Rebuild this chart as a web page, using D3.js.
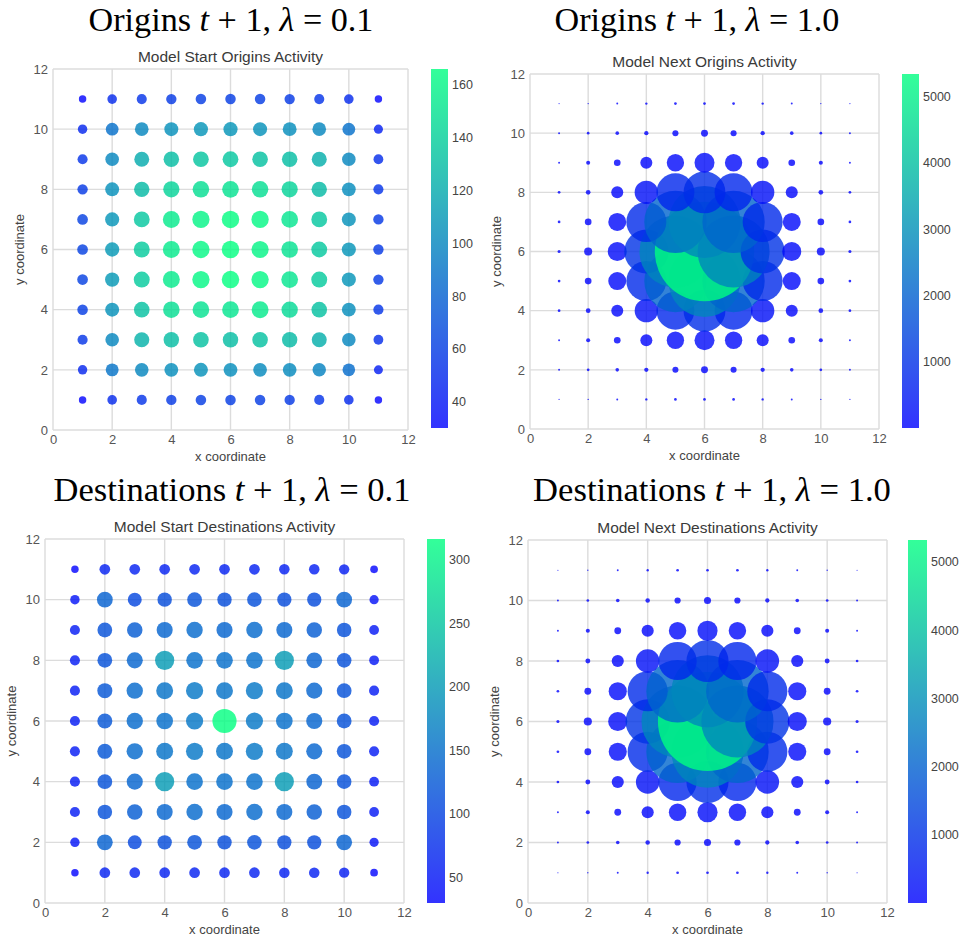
<!DOCTYPE html>
<html>
<head>
<meta charset="utf-8">
<script src="https://cdn.jsdelivr.net/npm/d3@7"></script>
<style>
  body { margin: 0; background: #fff; }
  text { white-space: pre; }
</style>
</head>
<body>
<svg id="chart" width="961" height="941"></svg>
<script>
// grid cells are 1..11 on both axes, rows below are listed from y = 11 (top) down to y = 1
const gridCoords = [1, 2, 3, 4, 5, 6, 7, 8, 9, 10, 11];
const axisTicks = [0, 2, 4, 6, 8, 10, 12];

const originsStart = [
  [30, 50, 55, 58, 60, 60, 60, 58, 55, 50, 30],
  [48, 88, 100, 105, 108, 108, 106, 104, 100, 88, 45],
  [55, 100, 120, 130, 134, 135, 132, 130, 122, 100, 52],
  [58, 105, 128, 142, 148, 150, 148, 142, 128, 103, 55],
  [62, 108, 135, 155, 160, 165, 162, 152, 135, 106, 58],
  [62, 110, 137, 155, 162, 166, 160, 150, 136, 108, 58],
  [62, 110, 137, 155, 162, 166, 162, 152, 137, 108, 58],
  [60, 106, 132, 148, 150, 152, 155, 145, 132, 104, 56],
  [56, 100, 124, 130, 132, 130, 132, 128, 122, 100, 52],
  [48, 90, 100, 104, 106, 104, 102, 102, 98, 86, 44],
  [30, 50, 55, 58, 60, 60, 60, 58, 55, 50, 30]
];

const originsNext = [
  [0.5, 1, 2, 3, 4, 4, 4, 3, 2, 1, 0.5],
  [2, 4, 7, 10, 20, 26, 20, 10, 7, 4, 2],
  [2, 9, 24, 78, 163, 216, 163, 78, 24, 9, 2],
  [4, 12, 78, 295, 780, 950, 780, 295, 78, 12, 4],
  [4, 24, 175, 865, 2100, 2800, 2100, 865, 175, 24, 4],
  [5, 35, 195, 1050, 2800, 5340, 2800, 1050, 195, 35, 5],
  [4, 24, 175, 865, 2100, 2800, 2100, 865, 175, 24, 4],
  [4, 12, 78, 295, 780, 950, 780, 295, 78, 12, 4],
  [2, 9, 24, 78, 163, 216, 163, 78, 24, 9, 2],
  [2, 4, 7, 10, 20, 26, 20, 10, 7, 4, 2],
  [0.5, 1, 2, 3, 4, 4, 4, 3, 2, 1, 0.5]
];

const destinationsStart = [
  [30, 62, 62, 62, 62, 62, 62, 60, 60, 58, 32],
  [48, 135, 105, 112, 118, 112, 115, 110, 110, 135, 46],
  [55, 118, 130, 140, 145, 140, 145, 140, 130, 115, 52],
  [55, 118, 140, 200, 150, 150, 150, 200, 135, 115, 52],
  [55, 122, 145, 155, 160, 155, 160, 155, 140, 118, 55],
  [55, 122, 145, 150, 160, 316, 160, 150, 140, 118, 55],
  [55, 122, 145, 155, 160, 155, 160, 155, 140, 118, 55],
  [55, 118, 140, 200, 150, 150, 150, 200, 135, 115, 52],
  [55, 115, 130, 140, 145, 140, 145, 140, 130, 115, 52],
  [48, 135, 105, 112, 118, 112, 115, 110, 110, 135, 46],
  [30, 62, 62, 62, 62, 62, 62, 60, 60, 58, 32]
];

const destinationsNext = [
  [0.3, 1, 2, 3, 4, 4, 4, 3, 2, 1, 0.4],
  [2, 4, 7, 11, 21, 27, 21, 10, 7, 4, 2],
  [2, 9, 25, 80, 165, 220, 165, 80, 25, 9, 2],
  [4, 13, 80, 300, 790, 960, 790, 300, 80, 13, 4],
  [4, 25, 178, 870, 2120, 2820, 2120, 870, 178, 25, 4],
  [5, 36, 198, 1060, 2820, 5320, 2820, 1060, 198, 36, 5],
  [4, 25, 178, 870, 2120, 2820, 2120, 870, 178, 25, 4],
  [4, 13, 80, 300, 790, 960, 790, 300, 80, 13, 4],
  [2, 9, 25, 80, 165, 220, 165, 80, 25, 9, 2],
  [2, 4, 7, 11, 21, 27, 21, 10, 7, 4, 2],
  [0.3, 1, 2, 3, 4, 4, 4, 3, 2, 1, 0.4]
];

const cbTicksOriginsStart = [40, 60, 80, 100, 120, 140, 160];
const cbTicksOriginsNext = [1000, 2000, 3000, 4000, 5000];
const cbTicksDestStart = [50, 100, 150, 200, 250, 300];
const cbTicksDestNext = [1000, 2000, 3000, 4000, 5000];

const panels = [
  { head: "Origins ", lam: "0.1", sub: "Model Start Origins Activity", values: originsStart, cbTicks: cbTicksOriginsStart,
    x0: 53, x1: 408, top: 69, bottom: 430, cbX: 431, cbW: 17, cbTop: 69, cbBottom: 428, titleX: 231, titleW: 285, titleY: 31 },
  { head: "Origins ", lam: "1.0", sub: "Model Next Origins Activity", values: originsNext, cbTicks: cbTicksOriginsNext,
    x0: 530, x1: 879, top: 74, bottom: 429, cbX: 902, cbW: 17, cbTop: 74, cbBottom: 428, titleX: 697, titleW: 285, titleY: 31 },
  { head: "Destinations ", lam: "0.1", sub: "Model Start Destinations Activity", values: destinationsStart, cbTicks: cbTicksDestStart,
    x0: 45, x1: 404, top: 539, bottom: 903, cbX: 427, cbW: 18, cbTop: 539, cbBottom: 903, titleX: 232, titleW: 357, titleY: 501 },
  { head: "Destinations ", lam: "1.0", sub: "Model Next Destinations Activity", values: destinationsNext, cbTicks: cbTicksDestNext,
    x0: 528, x1: 887, top: 540, bottom: 903, cbX: 908, cbW: 19, cbTop: 540, cbBottom: 903, titleX: 712, titleW: 358, titleY: 501 }
];

const svg = d3.select("#chart");
const winter = t => d3.rgb(0, 255 * t, 255 * (1 - 0.5 * t)).toString();
// marker area proportional to value, same scale in every panel
const size = d3.scaleSqrt().domain([0, 5000]).range([0, 0.68 * Math.sqrt(5000)]);
const gridColor = "#dcdcdc";
const sans = "'Liberation Sans', Arial, sans-serif";

panels.forEach((p, i) => {
  const g = svg.append("g");
  const x = d3.scaleLinear().domain([0, 12]).range([p.x0, p.x1]);
  const y = d3.scaleLinear().domain([0, 12]).range([p.bottom, p.top]);

  // big math-style heading
  const title = g.append("text")
    .attr("x", p.titleX).attr("y", p.titleY)
    .attr("text-anchor", "middle")
    .style("font-family", "'Liberation Serif', 'DejaVu Serif', serif")
    .style("font-size", "30px").attr("fill", "#000");
  title.append("tspan").text(p.head);
  title.append("tspan").style("font-style", "italic").text("t");
  title.append("tspan").text(" + 1, ");
  title.append("tspan").style("font-style", "italic").text("λ");
  title.append("tspan").text(" = " + p.lam);
  const w = title.node().getBBox().width;
  title.style("font-size", (30 * p.titleW / w) + "px");

  g.append("text")
    .attr("x", (p.x0 + p.x1) / 2).attr("y", p.top - 7)
    .attr("text-anchor", "middle")
    .style("font-family", sans).style("font-size", "15.5px")
    .attr("fill", "#3a3a3a").text(p.sub);

  // grid + frame
  g.selectAll(".gx").data(axisTicks).join("line")
    .attr("x1", d => x(d)).attr("x2", d => x(d))
    .attr("y1", p.top).attr("y2", p.bottom)
    .attr("stroke", gridColor).attr("stroke-width", 1.4);
  g.selectAll(".gy").data(axisTicks).join("line")
    .attr("class", "gy")
    .attr("y1", d => y(d)).attr("y2", d => y(d))
    .attr("x1", p.x0).attr("x2", p.x1)
    .attr("stroke", gridColor).attr("stroke-width", 1.4);

  // tick labels
  const xa = g.append("g").attr("transform", `translate(0,${p.bottom})`)
    .call(d3.axisBottom(x).tickValues(axisTicks).tickSize(0).tickPadding(5));
  const ya = g.append("g").attr("transform", `translate(${p.x0},0)`)
    .call(d3.axisLeft(y).tickValues(axisTicks).tickSize(0).tickPadding(5));
  [xa, ya].forEach(a => {
    a.select(".domain").remove();
    a.selectAll("text").attr("fill", "#555").style("font-family", sans).style("font-size", "13px");
  });

  g.append("text")
    .attr("x", (p.x0 + p.x1) / 2).attr("y", p.bottom + 31)
    .attr("text-anchor", "middle")
    .style("font-family", sans).style("font-size", "13px")
    .attr("fill", "#444").text("x coordinate");
  g.append("text")
    .attr("transform", `translate(${p.x0 - 29},${(p.top + p.bottom) / 2}) rotate(-90)`)
    .attr("text-anchor", "middle")
    .style("font-family", sans).style("font-size", "13px")
    .attr("fill", "#444").text("y coordinate");

  // points, drawn row by row (y outer, x inner), later ones on top
  const pts = [];
  gridCoords.forEach((cy, yi) => {
    gridCoords.forEach((cx, xi) => {
      pts.push({ x: cx, y: cy, v: p.values[gridCoords.length - 1 - yi][xi] });
    });
  });
  const ext = d3.extent(pts, d => d.v);
  const color = d3.scaleSequential(winter).domain(ext);

  g.append("g").selectAll("circle").data(pts).join("circle")
    .attr("cx", d => x(d.x)).attr("cy", d => y(d.y))
    .attr("r", d => Math.max(size(d.v), 0.6))
    .attr("fill", d => color(d.v))
    .attr("fill-opacity", 0.8);

  // colorbar
  const cb = d3.scaleLinear().domain(ext).range([p.cbBottom, p.cbTop]);
  const gradId = "cbgrad" + i;
  const grad = svg.append("defs").append("linearGradient")
    .attr("id", gradId).attr("x1", 0).attr("x2", 0).attr("y1", 1).attr("y2", 0);
  grad.selectAll("stop").data(d3.range(0, 1.0001, 0.1)).join("stop")
    .attr("offset", d => d).attr("stop-color", d => winter(d));
  g.append("rect")
    .attr("x", p.cbX).attr("y", p.cbTop)
    .attr("width", p.cbW).attr("height", p.cbBottom - p.cbTop)
    .attr("fill", `url(#${gradId})`).attr("fill-opacity", 0.8);
  const ca = g.append("g").attr("transform", `translate(${p.cbX + p.cbW},0)`)
    .call(d3.axisRight(cb).tickValues(p.cbTicks).tickFormat(d3.format("d")).tickSize(0).tickPadding(4));
  ca.select(".domain").remove();
  ca.selectAll("text").attr("fill", "#444").style("font-family", sans).style("font-size", "12.5px");
});
</script>
</body>
</html>
